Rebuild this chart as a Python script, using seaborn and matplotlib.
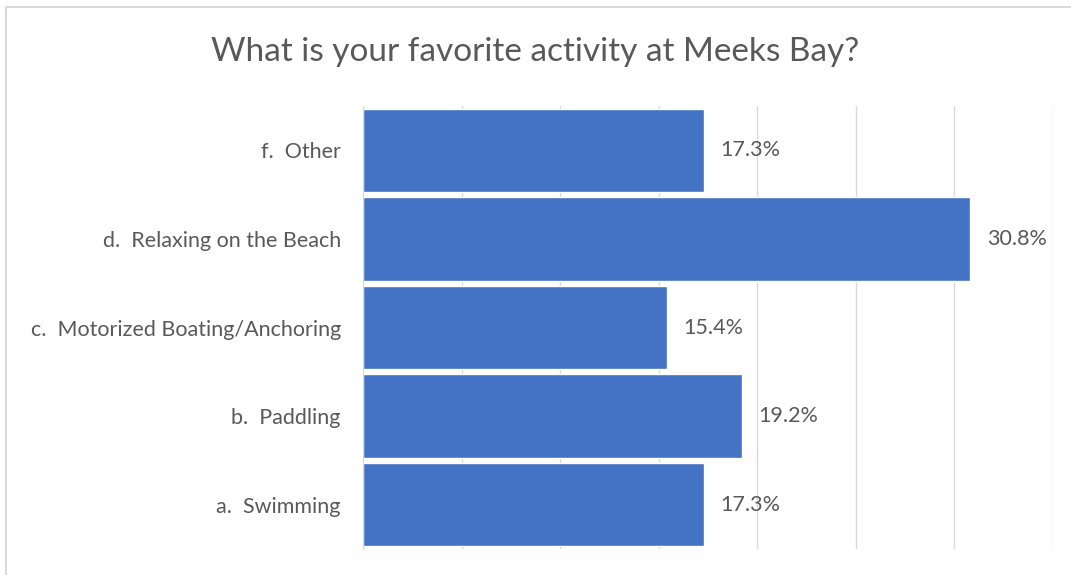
import matplotlib
matplotlib.use("Agg")
import matplotlib.pyplot as plt
import seaborn as sns
import pandas as pd
from matplotlib.patches import Rectangle

# Data
categories = ["f.  Other", "d.  Relaxing on the Beach", "c.  Motorized Boating/Anchoring",
              "b.  Paddling", "a.  Swimming"]
values = [17.3, 30.8, 15.4, 19.2, 17.3]
labels = ["17.3%", "30.8%", "15.4%", "19.2%", "17.3%"]

df = pd.DataFrame({"activity": categories, "pct": values})

sns.set_style("white")
plt.rcParams["font.family"] = ["Lato", "DejaVu Sans"]

fig = plt.figure(figsize=(10.71, 5.75), dpi=100)
ax = fig.add_axes([363 / 1071, 1 - 549 / 575, (1053 - 363) / 1071, (549 - 106) / 575])

sns.barplot(data=df, x="pct", y="activity", color="#4472C4", saturation=1,
            width=0.94, orient="h", ax=ax, zorder=2)

ax.set_xlim(0, 35)
ax.set_ylim(4.5, -0.5)
ax.set_xticks(range(0, 40, 5))
ax.set_xticklabels([])
ax.grid(axis="x", color="#d9d9d9", linewidth=1, zorder=0)
ax.tick_params(axis="x", length=0)
ax.tick_params(axis="y", length=0, pad=16, labelsize=15.5, labelcolor="#595959")
ax.set_xlabel("")
ax.set_ylabel("")
for s in ["top", "right", "bottom"]:
    ax.spines[s].set_visible(False)
ax.spines["left"].set_color("#d9d9d9")
ax.spines["left"].set_zorder(3)

for i, (v, lab) in enumerate(zip(values, labels)):
    ax.annotate(lab, xy=(v, i), xytext=(12, 0), textcoords="offset points",
                va="center", ha="left", fontsize=15.5, color="#595959")

fig.text(0.5, 1 - 52 / 575, "What is your favorite activity at Meeks Bay?",
         ha="center", va="center", fontsize=24, color="#595959")

# chart frame (only left and top edges visible)
fig.patches.append(Rectangle((6 / 1071, -0.05), 1.0, 1.05 - 7 / 575,
                             transform=fig.transFigure, fill=False,
                             edgecolor="#d9d9d9", linewidth=1.5))

fig.savefig("out.png", dpi=100)
